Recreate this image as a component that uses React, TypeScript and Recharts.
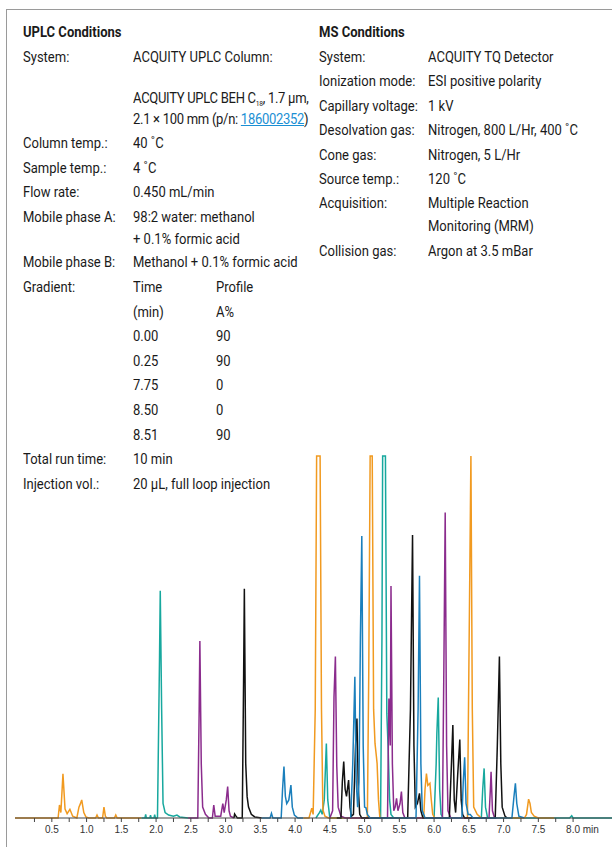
import { LineChart, Line, XAxis, YAxis } from "recharts";

// retention time (min), relative response (0-100, 100 = clipped at top)
const orangeEarly: [number, number][] = [
  [-0.03, 0], [0.59, 0], [0.61, 3.6], [0.63, 1.5], [0.66, 12.2], [0.69, 2.5], [0.72, 1.2],
  [0.76, 2.4], [0.8, 0.5], [0.86, 0], [0.89, 3.0], [0.91, 3.9], [0.93, 5.0], [0.96, 1.5],
  [0.99, 0.3], [1.03, 0], [1.13, 0], [1.15, 0.8], [1.17, 0], [1.23, 0], [1.25, 3.0],
  [1.27, 0.5], [1.29, 0], [1.4, 0], [1.42, 0.8], [1.44, 0], [1.79, 0],
];
const tealEarly: [number, number][] = [
  [1.79, 0], [1.84, 0], [1.85, 1.0], [1.86, 0], [1.91, 0], [1.92, 0.8], [1.93, 0], [1.97, 0],
  [1.98, 0.9], [1.99, 0], [2.02, 0], [2.05, 45], [2.06, 62.8], [2.08, 30], [2.1, 4],
  [2.13, 1.5], [2.18, 0.8], [2.25, 0.5], [2.3, 0.8], [2.34, 0.3], [2.46, 0],
];
const purpleEarly: [number, number][] = [
  [2.46, 0], [2.6, 0], [2.62, 30], [2.63, 48.9], [2.65, 15], [2.67, 3], [2.71, 1], [2.76, 0],
  [2.81, 0], [2.83, 3.6], [2.85, 0.5], [2.93, 0.5], [2.96, 4.0], [2.98, 1.5], [3.01, 5],
  [3.03, 8.7], [3.05, 2], [3.07, 0.5], [3.12, 0],
];
const blackEarly: [number, number][] = [
  [3.12, 0], [3.13, 1.1], [3.15, 0.5], [3.17, 0], [3.24, 0], [3.26, 40], [3.27, 63.3],
  [3.29, 15], [3.31, 5.9], [3.33, 3], [3.37, 1], [3.42, 0.3], [3.52, 0],
];
const blueEarly: [number, number][] = [
  [3.52, 0], [3.64, 0], [3.66, 1.3], [3.68, 0], [3.8, 0], [3.82, 8], [3.84, 14.2], [3.86, 6],
  [3.88, 4], [3.91, 5], [3.94, 9.1], [3.96, 3], [3.99, 0.8], [4.04, 0], [4.12, 0],
];
const orangeLate: [number, number][] = [
  [4.12, 0], [4.2, 0], [4.23, 2.0], [4.24, 2.7], [4.26, 1], [4.29, 30], [4.31, 100],
  [4.36, 100], [4.38, 30], [4.4, 2.2], [4.43, 0.5], [4.48, 0], [5.04, 0], [5.06, 40],
  [5.08, 100], [5.11, 100], [5.13, 30], [5.15, 20.6], [5.17, 17], [5.18, 15.1], [5.2, 5],
  [5.22, 0], [5.85, 0], [5.87, 8], [5.89, 12.3], [5.91, 9], [5.94, 9.6], [5.96, 5],
  [5.98, 1], [6.01, 0], [6.48, 0], [6.5, 40], [6.53, 100], [6.55, 30], [6.57, 3],
  [6.62, 1], [6.68, 0], [7.3, 0], [7.33, 1], [7.36, 5.2], [7.38, 4], [7.4, 1.5],
  [7.44, 0.5], [7.5, 0], [7.73, 0],
];
const tealLate: [number, number][] = [
  [4.3, 0], [4.35, 1.5], [4.37, 2.2], [4.39, 1], [4.42, 5], [4.45, 20.6], [4.47, 5], [4.5, 0],
  [5.23, 0], [5.25, 50], [5.26, 100], [5.3, 100], [5.32, 28.9], [5.34, 18.8], [5.36, 5],
  [5.38, 1], [5.42, 0], [6.0, 0], [6.03, 15], [6.04, 23.4], [6.06, 33.3], [6.08, 8],
  [6.1, 1], [6.13, 0], [6.68, 0], [6.7, 8], [6.72, 13.7], [6.74, 3], [6.77, 0],
  [7.95, 0], [7.98, 0.6], [8.0, 0], [8.56, 0],
];
const purpleLate: [number, number][] = [
  [4.5, 0], [4.54, 2], [4.56, 33.5], [4.58, 44.6], [4.6, 14.2], [4.62, 3], [4.66, 0.5],
  [4.72, 0], [5.33, 0], [5.35, 33], [5.37, 20], [5.38, 64.1], [5.4, 15], [5.42, 2],
  [5.44, 3], [5.46, 5.4], [5.48, 2], [5.51, 4], [5.53, 7.3], [5.55, 1.5], [5.58, 0],
  [6.12, 0], [6.14, 40], [6.16, 84.4], [6.18, 20], [6.2, 2], [6.24, 0], [6.79, 0],
  [6.81, 8], [6.82, 12.8], [6.84, 2], [6.87, 0], [6.9, 0],
];
const blackLate: [number, number][] = [
  [4.6, 0], [4.66, 0], [4.68, 10], [4.7, 15.6], [4.72, 8], [4.74, 6], [4.77, 10.5],
  [4.79, 3], [4.81, 0.5], [4.84, 1], [4.87, 20], [4.89, 27.5], [4.91, 8], [4.93, 1],
  [4.96, 0], [5.62, 0], [5.66, 30], [5.69, 78.2], [5.71, 20], [5.73, 3], [5.76, 4],
  [5.79, 6.8], [5.81, 2], [5.84, 0], [6.22, 0], [6.25, 15], [6.27, 25.7], [6.29, 5],
  [6.31, 1.5], [6.34, 12], [6.37, 21.7], [6.39, 5], [6.41, 1], [6.44, 0], [6.88, 0],
  [6.91, 20], [6.94, 44.6], [6.96, 15], [6.98, 3], [7.02, 0.5], [7.05, 0],
];
const blueLate: [number, number][] = [
  [4.8, 0], [4.83, 15], [4.86, 39], [4.88, 10], [4.9, 3], [4.92, 10], [4.94, 50],
  [4.96, 77.9], [4.98, 20], [5.0, 3], [5.02, 2.8], [5.04, 1], [5.08, 0], [5.74, 0],
  [5.77, 30], [5.79, 66.9], [5.81, 15], [5.83, 2], [5.87, 0], [6.4, 0], [6.42, 10],
  [6.44, 16.8], [6.46, 4], [6.49, 1], [6.52, 1], [6.56, 0], [7.12, 0], [7.15, 6],
  [7.17, 9.6], [7.19, 4], [7.22, 0.5], [7.3, 0],
];

const xTicks = [
  0.25, 0.5, 0.75, 1.0, 1.25, 1.5, 1.75, 2.0, 2.25, 2.5, 2.75, 3.0, 3.25, 3.5, 3.75, 4.0,
  4.25, 4.5, 4.75, 5.0, 5.25, 5.5, 5.75, 6.0, 6.25, 6.5, 6.75, 7.0, 7.25, 7.5, 7.75, 8.0,
];

const uplcRows: [string, string[]][] = [
  ["System:", ["ACQUITY UPLC Column:"]],
  ["Column temp.:", ["40 ˚C"]],
  ["Sample temp.:", ["4 ˚C"]],
  ["Flow rate:", ["0.450 mL/min"]],
  ["Mobile phase A:", ["98:2 water: methanol", "+ 0.1% formic acid"]],
  ["Mobile phase B:", ["Methanol + 0.1% formic acid"]],
];
const gradientRows: [string, string][] = [
  ["Time", "Profile"],
  ["(min)", "A%"],
  ["0.00", "90"],
  ["0.25", "90"],
  ["7.75", "0"],
  ["8.50", "0"],
  ["8.51", "90"],
];
const uplcTail: [string, string][] = [
  ["Total run time:", "10 min"],
  ["Injection vol.:", "20 µL, full loop injection"],
];
const msRows: [string, string[]][] = [
  ["System:", ["ACQUITY TQ Detector"]],
  ["Ionization mode:", ["ESI positive polarity"]],
  ["Capillary voltage:", ["1 kV"]],
  ["Desolvation gas:", ["Nitrogen, 800 L/Hr, 400 ˚C"]],
  ["Cone gas:", ["Nitrogen, 5 L/Hr"]],
  ["Source temp.:", ["120 ˚C"]],
  ["Acquisition:", ["Multiple Reaction", "Monitoring (MRM)"]],
  ["Collision gas:", ["Argon at 3.5 mBar"]],
];

const traces = [
  { name: "orangeEarly", pts: orangeEarly, color: "#F19A20" },
  { name: "tealEarly", pts: tealEarly, color: "#17A89E" },
  { name: "purpleEarly", pts: purpleEarly, color: "#8B2C8D" },
  { name: "blackEarly", pts: blackEarly, color: "#111111" },
  { name: "blueEarly", pts: blueEarly, color: "#1A7FBC" },
  { name: "tealLate", pts: tealLate, color: "#17A89E" },
  { name: "orangeLate", pts: orangeLate, color: "#F19A20" },
  { name: "purpleLate", pts: purpleLate, color: "#8B2C8D" },
  { name: "blackLate", pts: blackLate, color: "#111111" },
  { name: "blueLate", pts: blueLate, color: "#1A7FBC" },
];

// Roboto squeezed horizontally to stand in for the condensed face of the original
const textStyle = {
  position: "absolute" as const,
  fontFamily: "Roboto, sans-serif",
  fontSize: 15.5,
  lineHeight: "20px",
  color: "#1a1a1a",
  whiteSpace: "nowrap" as const,
  transform: "scaleX(0.84)",
  transformOrigin: "0 0",
};

function T({ x, y, children, bold, tight }: { x: number; y: number; children: any; bold?: boolean; tight?: boolean }) {
  return (
    <div style={{ ...textStyle, left: x, top: y - 10, fontWeight: bold ? 700 : 400, letterSpacing: tight ? "-0.35px" : undefined }}>
      {children}
    </div>
  );
}

function TimeTick(props: any) {
  const { x, y, payload } = props;
  const v = payload.value as number;
  if (Math.abs(v * 2 - Math.round(v * 2)) > 1e-6) return null;
  const label = v.toFixed(1);
  if (v === 8) {
    return (
      <text x={x - 7} y={y} dy="0.71em" textAnchor="start" fontSize={10} fontFamily="Liberation Sans, Arial, sans-serif" fill="#333">
        {label} min
      </text>
    );
  }
  return (
    <text x={x} y={y} dy="0.71em" textAnchor="middle" fontSize={10} fontFamily="Liberation Sans, Arial, sans-serif" fill="#333">
      {label}
    </text>
  );
}

export default function App() {
  const left: any[] = [];
  let y = 57;
  left.push(<T key="sys" x={23} y={y}>{uplcRows[0][0]}</T>);
  left.push(<T key="sysv" x={133} y={y}>{uplcRows[0][1][0]}</T>);
  left.push(
    <T key="col1" x={133} y={98} tight>
      ACQUITY UPLC BEH C<sub style={{ fontSize: 8, verticalAlign: "-3px" }}>18</sub>, 1.7 µm,
    </T>
  );
  left.push(
    <T key="col2" x={133} y={119} tight>
      2.1 × 100 mm (p/n: <span style={{ color: "#1a8fd4", textDecoration: "underline" }}>186002352</span>)
    </T>
  );
  y = 143;
  uplcRows.slice(1).forEach(([k, vals], i) => {
    left.push(<T key={"l" + i} x={23} y={y}>{k}</T>);
    vals.forEach((v, j) => {
      left.push(<T key={"v" + i + j} x={133} y={y + j * 22}>{v}</T>);
    });
    y += 24.5 + (vals.length - 1) * 21;
  });
  y = 287;
  left.push(<T key="grad" x={23} y={y}>Gradient:</T>);
  gradientRows.forEach(([a, b], i) => {
    left.push(<T key={"ga" + i} x={133} y={y + i * 24.6}>{a}</T>);
    left.push(<T key={"gb" + i} x={216} y={y + i * 24.6}>{b}</T>);
  });
  uplcTail.forEach(([a, b], i) => {
    left.push(<T key={"ta" + i} x={23} y={459 + i * 24.6}>{a}</T>);
    left.push(<T key={"tb" + i} x={133} y={459 + i * 24.6}>{b}</T>);
  });

  const right: any[] = [];
  let ry = 57;
  msRows.forEach(([k, vals], i) => {
    right.push(<T key={"mk" + i} x={319} y={ry}>{k}</T>);
    vals.forEach((v, j) => {
      right.push(<T key={"mv" + i + j} x={428} y={ry + j * 23}>{v}</T>);
    });
    ry += 24.4 + (vals.length - 1) * 23;
  });

  return (
    <div style={{ position: "absolute", left: 0, top: 0, width: 612, height: 847, overflow: "hidden", background: "#fff" }}>
      <div style={{ position: "absolute", left: 6, top: 9, width: 620, height: 860, borderTop: "1.5px solid #9a9a9a", borderLeft: "1.5px solid #9a9a9a" }} />
      <T x={23} y={32} bold>UPLC Conditions</T>
      <T x={319} y={32} bold>MS Conditions</T>
      {left}
      {right}
      <div style={{ position: "absolute", left: 0, top: 440 }}>
        <LineChart width={612} height={407} margin={{ top: 16, right: 0, bottom: 0, left: 15 }}>
          <XAxis
            type="number"
            dataKey="t"
            domain={[-0.03, 8.56]}
            ticks={xTicks}
            interval={0}
            allowDuplicatedCategory={false}
            height={29}
            tickSize={4}
            tickMargin={4}
            stroke="#444"
            tick={<TimeTick />}
          />
          <YAxis type="number" dataKey="v" domain={[0, 100]} hide />
          {traces.map((tr) => (
            <Line
              key={tr.name}
              data={tr.pts.map(([t, v]) => ({ t, v }))}
              dataKey="v"
              type="linear"
              stroke={tr.color}
              strokeWidth={1.5}
              dot={false}
              isAnimationActive={false}
            />
          ))}
        </LineChart>
      </div>
    </div>
  );
}
